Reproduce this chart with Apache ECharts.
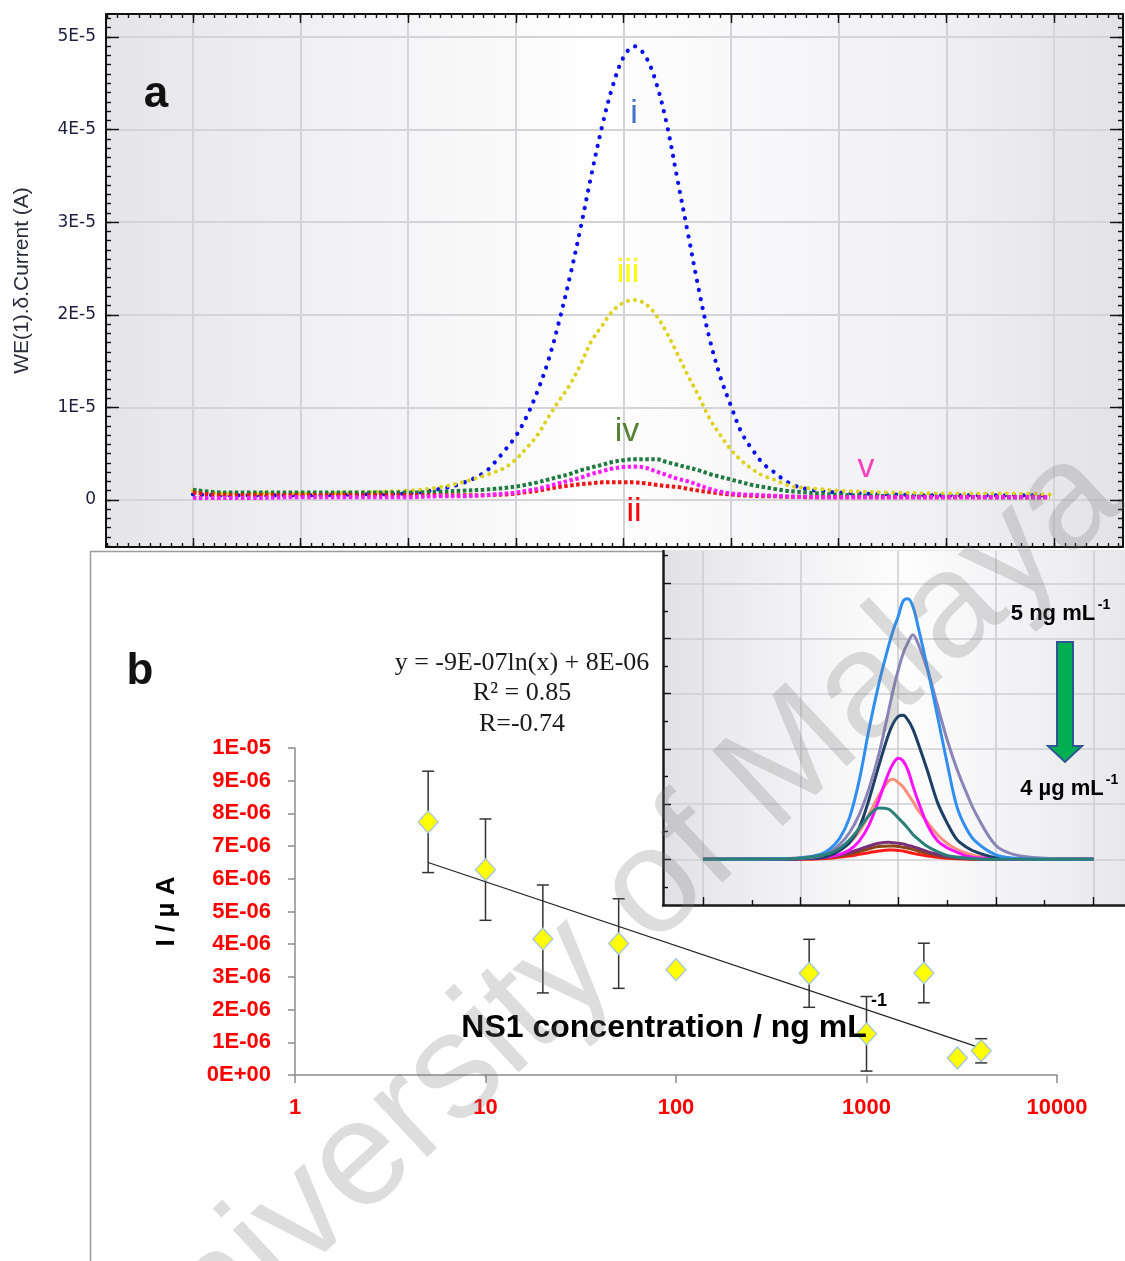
<!DOCTYPE html>
<html><head><meta charset="utf-8">
<script src="https://cdn.jsdelivr.net/npm/echarts@6/dist/echarts.min.js"></script>
<style>html,body{margin:0;padding:0;background:#fff}#c{width:1125px;height:1261px}</style>
</head><body><div id="c"></div>
<script>
// ---------- Panel a : DPV curves (current in units of 1E-5 A) ----------
const potentialA = [-0.40,-0.37,-0.35,-0.30,-0.25,-0.20,-0.17,-0.15,-0.13,-0.12,-0.11,-0.10,-0.09,-0.08,-0.07,-0.06,-0.05,-0.04,-0.03,-0.02,-0.01,0.00,0.01,0.02,0.03,0.04,0.05,0.06,0.07,0.08,0.09,0.10,0.11,0.12,0.13,0.14,0.15,0.16,0.17,0.18,0.20,0.25,0.30,0.35,0.396];
const curveI   = [0.06,0.05,0.05,0.05,0.06,0.07,0.12,0.18,0.29,0.40,0.54,0.69,0.90,1.17,1.50,1.92,2.40,2.93,3.50,4.03,4.47,4.78,4.90,4.80,4.52,4.07,3.47,2.87,2.27,1.74,1.33,1.01,0.72,0.54,0.39,0.30,0.21,0.15,0.12,0.10,0.08,0.06,0.05,0.05,0.05];
const curveIII = [0.10,0.07,0.07,0.07,0.08,0.10,0.14,0.19,0.26,0.30,0.35,0.44,0.56,0.70,0.89,1.07,1.24,1.46,1.71,1.88,2.04,2.13,2.16,2.12,2.00,1.81,1.58,1.34,1.12,0.88,0.70,0.54,0.42,0.33,0.26,0.22,0.17,0.14,0.13,0.12,0.10,0.08,0.07,0.07,0.06];
const curveIV  = [0.11,0.08,0.08,0.08,0.08,0.08,0.09,0.10,0.11,0.12,0.13,0.145,0.165,0.19,0.22,0.25,0.28,0.32,0.35,0.38,0.41,0.43,0.44,0.44,0.44,0.41,0.38,0.35,0.32,0.28,0.25,0.22,0.19,0.16,0.14,0.12,0.10,0.09,0.08,0.07,0.055,0.04,0.035,0.03,0.03];
const curveII  = [0.08,0.05,0.05,0.05,0.05,0.05,0.05,0.05,0.05,0.055,0.06,0.07,0.085,0.10,0.12,0.14,0.155,0.17,0.18,0.19,0.19,0.19,0.19,0.18,0.165,0.15,0.14,0.12,0.10,0.085,0.07,0.06,0.05,0.045,0.04,0.04,0.035,0.035,0.03,0.03,0.03,0.03,0.03,0.03,0.03];
const curveV   = [0.02,0.02,0.02,0.03,0.03,0.03,0.04,0.04,0.05,0.06,0.07,0.08,0.10,0.12,0.15,0.18,0.21,0.24,0.28,0.31,0.34,0.355,0.36,0.35,0.31,0.27,0.23,0.20,0.16,0.12,0.09,0.07,0.06,0.055,0.05,0.045,0.04,0.035,0.035,0.03,0.03,0.03,0.03,0.03,0.03];
const yTickValuesA = [0,1,2,3,4,5];
const yTickLabelsA = ['0','1E-5','2E-5','3E-5','4E-5','5E-5'];
const xTickValuesA = [-0.4,-0.3,-0.2,-0.1,0,0.1,0.2,0.3,0.4];

// ---------- Panel b : calibration (current in units of 1E-06 A) ----------
const concB    = [5,10,20,50,100,500,1000,2000,3000,4000];
const currentB = [7.74,6.28,4.16,4.02,3.22,3.11,1.26,3.12,0.52,0.74];
const errorB   = [1.55,1.55,1.65,1.37,0,1.04,1.14,0.91,0.12,0.37];
const trendX   = [5,4000];
const trendY   = [6.50,0.82];
const yTickLabelsB = ['0E+00','1E-06','2E-06','3E-06','4E-06','5E-06','6E-06','7E-06','8E-06','9E-06','1E-05'];
const xTickLabelsB = ['1','10','100','1000','10000'];

// ---------- Inset : DPV curves 5 ng/mL -> 4 µg/mL ----------
const insetX    = [0,0.8,1.0,1.2,1.3,1.4,1.5,1.6,1.7,1.8,1.9,1.95,2.0,2.05,2.1,2.15,2.2,2.3,2.4,2.5,2.6,2.7,2.8,3.0,3.2,3.5,4.0];
const inLightBlue = [0,0.01,0.03,0.09,0.19,0.38,0.75,1.43,2.35,3.17,3.86,4.16,4.40,4.68,4.72,4.58,4.24,3.46,2.61,1.75,0.96,0.55,0.31,0.08,0.02,0,0];
const inLavender  = [0,0.01,0.02,0.06,0.14,0.27,0.48,0.81,1.28,1.89,2.68,3.08,3.43,3.73,3.93,4.07,3.92,3.43,2.80,2.17,1.64,1.20,0.81,0.25,0.08,0.02,0];
const inNavy      = [0,0,0.01,0.03,0.07,0.16,0.30,0.57,1.08,1.69,2.26,2.47,2.59,2.61,2.52,2.36,2.12,1.60,1.04,0.66,0.36,0.22,0.13,0.03,0.01,0,0];
const inMagenta   = [0,0,0.01,0.03,0.05,0.09,0.17,0.33,0.62,1.07,1.56,1.74,1.83,1.78,1.61,1.33,1.07,0.62,0.34,0.21,0.13,0.06,0.03,0.01,0,0,0];
const inSalmon    = [0,0.01,0.03,0.06,0.11,0.18,0.30,0.50,0.81,1.15,1.42,1.45,1.39,1.31,1.18,1.05,0.90,0.67,0.45,0.29,0.18,0.11,0.06,0.02,0.01,0,0];
const inTeal      = [0,0.01,0.02,0.07,0.11,0.20,0.35,0.56,0.79,0.93,0.91,0.84,0.75,0.66,0.56,0.45,0.37,0.23,0.14,0.07,0.04,0.02,0.01,0,0,0,0];
const inPurple    = [0,0,0.01,0.03,0.05,0.08,0.12,0.18,0.24,0.29,0.31,0.30,0.29,0.28,0.25,0.23,0.20,0.14,0.09,0.05,0.03,0.02,0.01,0,0,0,0];
const inBrown     = [0,0,0.01,0.02,0.04,0.06,0.09,0.14,0.19,0.23,0.24,0.24,0.23,0.22,0.20,0.18,0.15,0.11,0.07,0.04,0.02,0.01,0.005,0,0,0,0];
const inRed       = [0,0,0,0.01,0.02,0.04,0.06,0.09,0.12,0.15,0.17,0.17,0.16,0.15,0.13,0.11,0.09,0.06,0.035,0.02,0.01,0.005,0,0,0,0,0];

// ---------- helpers ----------
function steps(a, b, s) { const o = []; const n = Math.round((b - a) / s); for (let i = 0; i <= n; i++) o.push(+(a + i * s).toFixed(6)); return o; }
const xMinorA = steps(-0.48, 0.46, 0.01);
const yMinorA = steps(-0.5, 5.2, 0.1);
const FONT = '"Liberation Sans", Arial, sans-serif';
const pair = (xs, ys) => xs.map((x, i) => [x, ys[i]]);

const aX = { min: -0.4808, max: 0.4641 };
const aY = { min: -0.508, max: 5.248 };
const inX = { min: -0.41, max: 4.323 };
const inY = { min: -0.828, max: 5.585 };
const black = '#111';

function tickAxis(base, pos, vals, len, split, extra) {
  return Object.assign({
    type: 'value', position: pos,
    axisLine: { show: !!(extra && extra.line), onZero: false, lineStyle: { color: black, width: 2 } },
    axisTick: { show: true, inside: true, length: len, customValues: vals, lineStyle: { color: black, width: 1.4 } },
    axisLabel: { show: false },
    splitLine: split ? { show: true, lineStyle: { color: '#d4d4d6', width: 2 } } : { show: false }
  }, base, extra ? extra.opts || {} : {});
}

const chart = echarts.init(document.getElementById('c'), null, { renderer: 'canvas', width: 1125, height: 1261 });

const grids = [
  { left: 106, top: 14, width: 1017, height: 533, show: true, borderWidth: 0, containLabel: false, outerBoundsMode: 'none',
    backgroundColor: { type: 'linear', x: 0, y: 0, x2: 1, y2: 0, colorStops: [
      { offset: 0, color: '#e5e5e9' }, { offset: 0.1, color: '#ebebee' }, { offset: 0.48, color: '#fefefe' },
      { offset: 0.82, color: '#f0f0f3' }, { offset: 1, color: '#e2e2e7' }] } },
  { left: 295, top: 748, width: 762, height: 327, containLabel: false, outerBoundsMode: 'none' },
  { left: 663, top: 551, width: 462, height: 354, show: true, borderWidth: 0, containLabel: false, outerBoundsMode: 'none',
    backgroundColor: { type: 'linear', x: 0, y: 0, x2: 1, y2: 0, colorStops: [
      { offset: 0, color: '#e1e1e5' }, { offset: 0.12, color: '#eaeaed' }, { offset: 0.52, color: '#fdfdfd' },
      { offset: 1, color: '#e8e8ec' }] } }
];

const xAxes = [
  tickAxis(Object.assign({ gridIndex: 0 }, aX), 'bottom', xTickValuesA, 9, true, { line: true }),
  tickAxis(Object.assign({ gridIndex: 0 }, aX), 'bottom', xMinorA, 4, false),
  tickAxis(Object.assign({ gridIndex: 0 }, aX), 'top', xTickValuesA, 9, false, { line: true }),
  tickAxis(Object.assign({ gridIndex: 0 }, aX), 'top', xMinorA, 4, false),
  { gridIndex: 1, type: 'log', logBase: 10, min: 1, max: 10000, position: 'bottom',
    axisLine: { show: true, onZero: false, lineStyle: { color: '#8c8c8c', width: 1.5 } },
    axisTick: { show: true, inside: false, length: 8, lineStyle: { color: '#8c8c8c', width: 1.5 } },
    minorTick: { show: false },
    axisLabel: { color: '#ff0000', fontWeight: 'bold', fontSize: 22, fontFamily: FONT, margin: 22,
      formatter: (v) => xTickLabelsB[Math.round(Math.log10(v))] },
    splitLine: { show: false } },
  tickAxis(Object.assign({ gridIndex: 2 }, inX), 'bottom', [0, 1, 2, 3, 4], 8, true, { line: true }),
  tickAxis(Object.assign({ gridIndex: 2 }, inX), 'bottom', [0.5, 1.5, 2.5, 3.5], 5, false)
];
xAxes[5].splitLine.lineStyle = { color: '#cfcfd2', width: 1.6 };
xAxes[5].axisLine.lineStyle = { color: '#1a1a1a', width: 2.5 };

const yAxes = [
  tickAxis(Object.assign({ gridIndex: 0 }, aY), 'left', yTickValuesA, 13, true, { line: true, opts: {
    name: 'WE(1).\u03b4.Current (A)', nameLocation: 'middle', nameGap: 73, nameRotate: 90,
    nameTextStyle: { fontFamily: '"Liberation Sans Narrow", "Liberation Sans", Arial', fontSize: 21, color: '#2b2b3a' } } }),
  tickAxis(Object.assign({ gridIndex: 0 }, aY), 'left', yMinorA, 5, false),
  tickAxis(Object.assign({ gridIndex: 0 }, aY), 'right', yTickValuesA, 13, false, { line: true }),
  tickAxis(Object.assign({ gridIndex: 0 }, aY), 'right', yMinorA, 5, false),
  { gridIndex: 1, type: 'value', min: 0, max: 10, interval: 1, position: 'left',
    name: 'I / \u00b5 A', nameLocation: 'middle', nameGap: 115, nameRotate: 90,
    nameTextStyle: { fontFamily: FONT, fontWeight: 'bold', fontSize: 26, color: '#000' },
    axisLine: { show: true, onZero: false, lineStyle: { color: '#8c8c8c', width: 1.5 } },
    axisTick: { show: true, inside: false, length: 7, lineStyle: { color: '#8c8c8c', width: 1.5 } },
    axisLabel: { color: '#ff0000', fontWeight: 'bold', fontSize: 22, fontFamily: FONT, margin: 24,
      formatter: (v) => yTickLabelsB[Math.round(v)] },
    splitLine: { show: false } },
  tickAxis(Object.assign({ gridIndex: 2 }, inY), 'left', [0, 1, 2, 3, 4, 5], 8, true, { line: true }),
  tickAxis(Object.assign({ gridIndex: 2 }, inY), 'left', [-0.5, 0.5, 1.5, 2.5, 3.5, 4.5, 5.5], 5, false)
];
yAxes[0].axisLabel = { show: true, customValues: yTickValuesA, margin: 10, color: '#1d1d3d',
  fontFamily: '"DejaVu Sans", sans-serif', fontSize: 17, formatter: (v) => yTickLabelsA[Math.round(v)] };
yAxes[5].splitLine.lineStyle = { color: '#cfcfd2', width: 1.6 };
yAxes[5].axisLine.lineStyle = { color: '#1a1a1a', width: 2.5 };

function dpv(name, ys, color, dash, width, cap) {
  return { name, type: 'line', xAxisIndex: 0, yAxisIndex: 0, data: pair(potentialA, ys), smooth: 0.35,
    showSymbol: false, silent: true, animation: false,
    lineStyle: { color, width, type: dash, cap: cap || 'round' } };
}
function inset(name, ys, color) {
  return { name, type: 'line', xAxisIndex: 5, yAxisIndex: 5, data: pair(insetX, ys), smooth: 0.35,
    showSymbol: false, silent: true, animation: false, lineStyle: { color, width: 3 } };
}

const series = [
  dpv('i', curveI, '#0a10f0', [0.1, 9], 4.2),
  dpv('iii', curveIII, '#ddd21e', [0.1, 7], 4),
  dpv('iv', curveIV, '#1f7a3f', [3.5, 2.5], 4, 'butt'),
  dpv('ii', curveII, '#f01414', [3.5, 2.5], 4, 'butt'),
  dpv('v', curveV, '#ff1cff', [3.5, 2.5], 4, 'butt'),
  inset('4000', inRed, '#ff1a1a'),
  inset('3000', inBrown, '#8b4513'),
  inset('2000', inPurple, '#7a2e78'),
  inset('s4', inSalmon, '#f8907c'),
  inset('s3', inMagenta, '#ff10ff'),
  inset('s2', inNavy, '#1d3f66'),
  inset('s1', inLavender, '#8a84b8'),
  inset('s0', inLightBlue, '#2f8ff0'),
  inset('s5', inTeal, '#2a7f78'),
  { type: 'custom', xAxisIndex: 4, yAxisIndex: 4, silent: true, animation: false, z: 1,
    data: concB.map((c, i) => [c, currentB[i] - errorB[i], currentB[i] + errorB[i]]),
    renderItem: (params, api) => {
      const top = api.coord([api.value(0), api.value(2)]);
      const bot = api.coord([api.value(0), api.value(1)]);
      if (Math.abs(bot[1] - top[1]) < 0.5) return null;
      const w = 6, st = { stroke: '#333', lineWidth: 1.5 };
      return { type: 'group', children: [
        { type: 'line', shape: { x1: top[0], y1: top[1], x2: bot[0], y2: bot[1] }, style: st },
        { type: 'line', shape: { x1: top[0] - w, y1: top[1], x2: top[0] + w, y2: top[1] }, style: st },
        { type: 'line', shape: { x1: bot[0] - w, y1: bot[1], x2: bot[0] + w, y2: bot[1] }, style: st }] };
    } },
  { type: 'line', xAxisIndex: 4, yAxisIndex: 4, data: pair(trendX, trendY), showSymbol: false, silent: true,
    animation: false, z: 4, lineStyle: { color: '#222', width: 1.2 } },
  { type: 'scatter', xAxisIndex: 4, yAxisIndex: 4, data: pair(concB, currentB), symbol: 'diamond',
    symbolSize: [20, 22], silent: true, animation: false, z: 10,
    itemStyle: { color: '#ffff00', borderColor: '#9dc3e6', borderWidth: 1.2, opacity: 1 } }
];

const t = (text, x, y, size, color, extra) => Object.assign({ type: 'text', x, y, silent: true, z: 50,
  style: Object.assign({ text, fill: color, fontSize: size, fontFamily: FONT, align: 'center', verticalAlign: 'middle' }, extra || {}) });

const graphic = [
  { type: 'rect', silent: true, z: -10, shape: { x: 90.5, y: 551.5, width: 1100, height: 800 },
    style: { fill: 'none', stroke: '#9c9c9c', lineWidth: 1.5 } },
  t('a', 156, 95, 44, '#111', { fontWeight: 'bold' }),
  t('b', 140, 672, 44, '#111', { fontWeight: 'bold' }),
  t('i', 634, 114, 34, '#4472c4'),
  t('iii', 628, 273, 34, '#ffff00'),
  t('iv', 627, 432, 34, '#548235'),
  t('v', 866, 468, 34, '#ff3fbf'),
  t('ii', 634, 512, 34, '#ff0000'),
  t('y = -9E-07ln(x) + 8E-06', 522, 663, 26, '#1a1a1a', { fontFamily: '"Liberation Serif", "Times New Roman", serif' }),
  t('R\u00b2 = 0.85', 522, 693, 26, '#1a1a1a', { fontFamily: '"Liberation Serif", "Times New Roman", serif' }),
  t('R=-0.74', 522, 724, 26, '#1a1a1a', { fontFamily: '"Liberation Serif", "Times New Roman", serif' }),
  t('NS1 concentration / ng mL', 664, 1028, 32, '#000', { fontWeight: 'bold' }),
  t('-1', 879, 1001, 18, '#000', { fontWeight: 'bold' }),
  t('5 ng mL', 1053, 614, 22, '#000', { fontWeight: 'bold' }),
  t('-1', 1104, 605, 14, '#000', { fontWeight: 'bold' }),
  t('4 \u00b5g mL', 1062, 789, 22, '#000', { fontWeight: 'bold' }),
  t('-1', 1112, 780, 14, '#000', { fontWeight: 'bold' }),
  { type: 'polygon', silent: true, z: 50,
    shape: { points: [[1057, 642], [1073, 642], [1073, 746], [1082, 746], [1065, 762], [1048, 746], [1057, 746]] },
    style: { fill: '#00b050', stroke: '#2f5597', lineWidth: 2 } },
  { type: 'text', x: 605, y: 935, rotation: 0.75, silent: true, z: 200,
    style: { text: 'University of Malaya', fontSize: 150, fontFamily: FONT, fill: 'rgba(120,120,120,0.25)',
      align: 'center', verticalAlign: 'middle' } }
];

chart.setOption({
  backgroundColor: '#ffffff',
  animation: false,
  grid: grids, xAxis: xAxes, yAxis: yAxes, series, graphic
});
</script></body></html>
